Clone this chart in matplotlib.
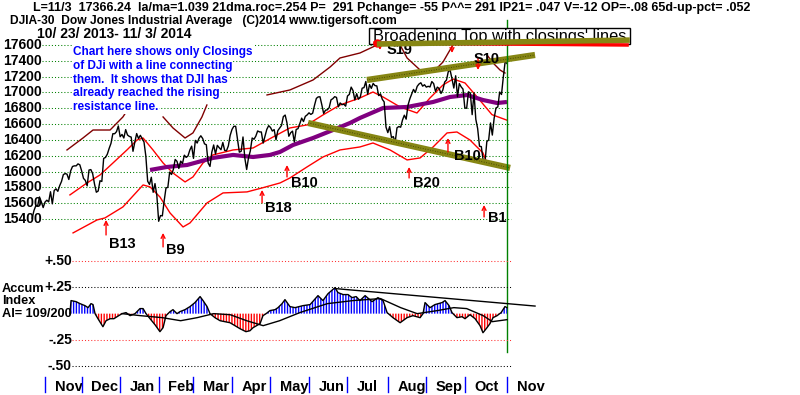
import numpy as np
import pandas as pd
import matplotlib
matplotlib.use("Agg")
import matplotlib.pyplot as plt

plt.rcParams['font.family'] = ['Liberation Sans', 'DejaVu Sans']
plt.rcParams['hatch.linewidth'] = 1.0

# ---------------- data ----------------
holidays = ['2013-11-28', '2013-12-25', '2014-01-01', '2014-01-20', '2014-02-17',
            '2014-04-18', '2014-05-26', '2014-07-04', '2014-09-01']
closes_oct13 = [15413, 15509, 15570, 15568, 15680, 15618, 15546]
closes_nov13 = [15615, 15639, 15618, 15746, 15593, 15761, 15783, 15751, 15822, 15876, 15962,
                15976, 15968, 15901, 16010, 16065, 16073, 16073, 16098, 16086]
closes_dec13 = [16008, 15915, 15889, 15821, 16020, 16026, 15974, 15844, 15740, 15755, 15885,
                15876, 16168, 16179, 16221, 16294, 16358, 16479, 16479, 16505, 16577]
closes_jan14 = [16441, 16470, 16425, 16531, 16463, 16445, 16437, 16257, 16374, 16481, 16418,
                16459, 16415, 16374, 16197, 15879, 15838, 15929, 15739, 15849, 15699]
closes_feb14 = [15373, 15445, 15441, 15629, 15795, 15801, 15994, 15964, 16027, 16154, 16130,
                16040, 16133, 16104, 16208, 16180, 16198, 16273, 16322]
closes_mar14 = [16168, 16395, 16361, 16422, 16453, 16419, 16351, 16340, 16109, 16066, 16247,
                16337, 16223, 16332, 16303, 16277, 16368, 16268, 16264, 16324, 16458]
closes_apr14 = [16533, 16573, 16573, 16413, 16246, 16257, 16438, 16171, 16027, 16174, 16263,
                16425, 16409, 16449, 16514, 16502, 16501, 16361, 16448, 16535, 16581]
closes_may14 = [16558, 16513, 16531, 16402, 16518, 16551, 16583, 16695, 16715, 16614, 16447,
                16491, 16512, 16375, 16533, 16543, 16607, 16676, 16633, 16699, 16717]
closes_jun14 = [16743, 16723, 16738, 16837, 16925, 16944, 16946, 16844, 16735, 16776, 16781,
                16808, 16907, 16922, 16947, 16938, 16819, 16868, 16846, 16852, 16827]
closes_jul14 = [16956, 16976, 17068, 17025, 16906, 16985, 16915, 16944, 17055, 17061, 17139,
                16977, 17100, 17052, 17114, 17087, 17083, 16961, 16983, 16913, 16881, 16563]
closes_aug14 = [16493, 16569, 16430, 16443, 16369, 16554, 16570, 16561, 16652, 16713, 16663,
                16839, 16920, 16980, 17039, 17001, 17077, 17107, 17123, 17080, 17098]
closes_sep14 = [17068, 17078, 17070, 17138, 17112, 17014, 17068, 17050, 16988, 17031, 17132,
                17157, 17266, 17280, 17173, 17056, 17211, 16946, 17113, 17071, 17043]
closes_oct14 = [16804, 16801, 17009, 16992, 16720, 16994, 16660, 16544, 16321, 16316, 16142,
                16117, 16380, 16400, 16615, 16462, 16677, 16805, 16818, 17006, 16975, 17196, 17391]
closes_nov14 = [17366]

# 65-day moving average (purple): (trading-day index, value)
ma65_idx = [64.3, 73.5, 84.5, 98.6, 109.6, 120.5, 129.7, 135.2, 142.3, 153.2, 164.1, 173.4,
            178.8, 191.4, 204.5, 218.7, 227.9, 237.2, 245.9, 253.6, 259.0]
ma65_val = [16021, 16059, 16084, 16173, 16211, 16185, 16211, 16249, 16337, 16425, 16526, 16615,
            16678, 16804, 16817, 16880, 16943, 16968, 16905, 16867, 16880]

# upper band (red)
up_idx = [20.6, 29.9, 37.0, 44.1, 51.7, 57.2, 60.5, 65.9, 71.4, 76.8, 83.4, 87.7, 93.2, 98.6,
          109.6, 120.5, 131.4, 140.6, 149.9, 158.6, 167.9, 178.8, 185.9, 191.4, 200.7, 209.9,
          217.0, 224.1, 229.6, 236.1, 243.2, 250.8, 259.0]
up_val = [15706, 15857, 15958, 16110, 16274, 16400, 16425, 16274, 16110, 15983, 15870, 15933,
          16110, 16211, 16274, 16299, 16438, 16552, 16590, 16716, 16842, 16931, 17006, 16943,
          16817, 16741, 16931, 17095, 17170, 17120, 16930, 16720, 16650]
# lower band (red)
lo_idx = [22.3, 35.4, 39.7, 49.5, 60.5, 64.3, 69.7, 75.2, 82.3, 86.1, 95.4, 104.1, 117.2,
          125.4, 135.2, 140.6, 149.9, 158.6, 167.9, 178.8, 185.9, 195.2, 204.5, 211.6, 218.7,
          226.3, 231.7, 238.8, 245.9, 248.1]
lo_val = [15226, 15390, 15415, 15554, 15832, 15807, 15680, 15478, 15301, 15352, 15605, 15731,
          15744, 15794, 15857, 15920, 16059, 16185, 16274, 16312, 16362, 16274, 16148, 16173,
          16312, 16489, 16501, 16400, 16236, 16110]
# outer bands (dark red) in pieces
m1_idx = [19.0, 27.7, 33.2, 42.5, 49.5, 52.0]
m1_val = [16274, 16425, 16526, 16526, 16691, 16780]
m2_idx = [71.4, 76.8, 83.4, 87.7, 92.6, 95.3]
m2_val = [16691, 16552, 16425, 16489, 16691, 16842]
m3_idx = [128.1, 140.6, 153.2, 162.5, 167.9, 178.8, 188.1]
m3_val = [16969, 17032, 17158, 17322, 17436, 17499, 17600]
m4_idx = [200.7, 204.5, 211.6, 218.7, 224.1, 227.9, 229.6]
m4_val = [17600, 17436, 17284, 17259, 17385, 17537, 17600]
m5_idx = [248.1, 251.4, 255.2, 257.9]
m5_val = [17474, 17373, 17284, 17246]

# Accumulation index
ai_idx = [20.6, 21.2, 23.9, 26.1, 28.8, 30.5, 32.1, 33.2, 34.3, 35.9, 38.6, 40.3, 42.5, 44.6,
          46.3, 49.0, 51.2, 53.4, 56.1, 58.8, 60.5, 62.1, 64.3, 67.0, 69.7, 71.4, 73.0, 75.2,
          76.8, 79.0, 80.6, 83.4, 86.1, 88.8, 91.6, 93.2, 95.4, 97.0, 99.7, 102.5, 107.9, 113.4,
          116.6, 118.8, 120.5, 124.3, 125.9, 127.6, 129.7, 132.5, 134.1, 136.3, 137.9, 140.6,
          143.4, 147.7, 151.6, 155.9, 158.6, 161.4, 165.2, 166.8, 169.6, 172.3, 174.5, 176.7,
          178.8, 181.6, 185.4, 188.6, 191.4, 193.6, 196.8, 200.7, 204.5, 207.7, 211.6, 213.2,
          214.3, 217.0, 219.7, 223.6, 225.2, 227.4, 229.0, 231.7, 234.5, 236.1, 238.8, 241.6,
          244.3, 245.9, 248.1, 249.7, 251.4, 253.6, 255.8, 257.9, 259.0]
ai_val = [0, 0.124, 0.114, 0.095, 0.076, 0.057, 0.095, 0.086, 0, -0.048, -0.124, -0.067, -0.048,
          -0.048, -0.029, 0, 0.01, -0.019, 0, 0.048, 0.048, 0, -0.048, -0.105, -0.171, -0.133,
          -0.019, 0.019, 0.038, 0, 0.019, 0.038, 0.067, 0.105, 0.162, 0.124, 0.067, 0, -0.038,
          -0.067, -0.086, -0.143, -0.171, -0.162, -0.133, -0.095, -0.019, 0, 0.029, 0.038, 0.057,
          0.095, 0.133, 0.067, 0.057, 0.076, 0.086, 0.171, 0.124, 0.19, 0.247, 0.2, 0.181, 0.181,
          0.152, 0.162, 0.124, 0.171, 0.114, 0.152, 0.124, 0.01, -0.038, -0.086, -0.038, -0.019,
          -0.038, 0, 0.105, 0.057, 0.086, 0.105, 0.124, 0.076, 0.01, -0.038, -0.029, -0.048,
          -0.01, -0.048, -0.114, -0.181, -0.133, -0.095, -0.038, -0.019, 0.01, 0.067, 0.057]
aima_idx = [49, 59, 71, 81, 90, 99, 108, 117, 126, 135, 146, 161, 175, 190, 201, 210, 221, 230,
            237, 246, 251, 259]
aima_val = [0, -0.019, -0.038, -0.067, -0.038, 0, -0.01, -0.067, -0.114, -0.067, 0.01, 0.095,
            0.124, 0.143, 0.057, 0, 0.029, 0.057, 0.048, -0.019, -0.076, -0.057]
ai_trend_idx = [165.2, 274.3]
ai_trend_val = [0.238, 0.072]

# olive trend lines
res_idx = [182.6, 274.3]
res_val = [17158, 17474]
sup_idx = [150.5, 260.7]
sup_val = [16615, 16047]

# signals: label, index, arrow tail, arrow head, label index, label value
buy_signals = [("B13", 40.3, 15200, 15390, 49.0, 15087),
               ("B9", 71.4, 15049, 15226, 77.9, 15011),
               ("B18", 125.4, 15605, 15769, 134.1, 15541),
               ("B10", 139.0, 15933, 16084, 148.3, 15857),
               ("B20", 205.6, 15920, 16059, 214.8, 15857),
               ("B10", 226.8, 16249, 16425, 237.2, 16198),
               ("B1", 246.5, 15428, 15579, 253.6, 15415)]
sell_signals = [("S19", 189.7, 17663, 17537, 193.2, 17540),
                ("", 229.0, 17610, 17499, 0, 0),
                ("S10", 243.2, 17436, 17284, 241.0, 17420)]

price_levels = list(range(15400, 17601, 200))
ai_levels = [0.50, 0.25, -0.25, -0.50]
ai_level_labels = ["+.50", "+.25", "-.25", "-.50"]

header1 = ("L=11/3  17366.24  la/ma=1.039 21dma.roc=.254 P=  291 Pchange= -55 P^^= 291 "
           "IP21= .047 V=-12 OP=-.08 65d-up-pct= .052")
header2 = "DJIA-30  Dow Jones Industrial Average   (C)2014 www.tigersoft.com"
header3 = "10/ 23/ 2013- 11/ 3/ 2014"
note_lines = ["Chart here shows only Closings", "of DJi with a line connecting",
              "them.  It shows that DJI has", "already reached the rising",
              "resistance line."]
title_text = "Broadening Top with closings' lines"

# ---------------- figure ----------------
dates = pd.bdate_range('2013-10-23', '2014-11-03', freq='C', holidays=holidays)
closes = np.array(closes_oct13 + closes_nov13 + closes_dec13 + closes_jan14 + closes_feb14 +
                  closes_mar14 + closes_apr14 + closes_may14 + closes_jun14 + closes_jul14 +
                  closes_aug14 + closes_sep14 + closes_oct14 + closes_nov14, dtype=float)
n = min(len(dates), len(closes))
dates = dates[:n]
closes = closes[:n]
idx = np.arange(n)

W, H = 800, 395
fig = plt.figure(figsize=(W / 100, H / 100), dpi=100)
fig.patch.set_facecolor('white')
renderer = fig.canvas.get_renderer()


def P(x, y):
    return (x / W, 1 - y / H)


def fit(t, width_px):
    bb = t.get_window_extent(renderer)
    t.set_fontsize(t.get_fontsize() * width_px / bb.width)
    return t


px_per_day = 1.8333
X0 = 7 - 45 / px_per_day
X1 = 7 + (W - 45) / px_per_day
ppp = 200 / 15.83
ax = fig.add_axes([0, 0, 1, 1])
ax.set_xlim(X0, X1)
ax.set_ylim(17600 - (H - 45) * ppp, 17600 + 45 * ppp)
ax.axis('off')

ax2 = fig.add_axes([0, 0, 1, 1], sharex=ax)
ax2.set_ylim(-(H - 313.65) / 26.35 * 0.25, 313.65 / 26.35 * 0.25)
ax2.axis('off')
ax2.patch.set_alpha(0)

dots = (0, (1, 2))
# price grid
ax.hlines(price_levels, 5.5, 261, colors='#008000', linestyles=dots, lw=0.75, zorder=1)
for lv in price_levels:
    ax.text(X0 + 42 / px_per_day, lv, str(lv), ha='right', va='center', fontsize=10,
            fontweight='bold', color='black')

# bands
ax.plot(up_idx, up_val, color='#ff0000', lw=1, zorder=2)
ax.plot(lo_idx, lo_val, color='#ff0000', lw=1, zorder=2)
for mi, mv in [(m1_idx, m1_val), (m2_idx, m2_val), (m3_idx, m3_val), (m4_idx, m4_val),
               (m5_idx, m5_val)]:
    ax.plot(mi, mv, color='#800000', lw=1, zorder=2)
ax.plot(ma65_idx, ma65_val, color='#800080', lw=3, zorder=3, solid_capstyle='butt')
ax.plot(idx, closes, color='black', lw=1, zorder=4)

# olive trend lines
for ti, tv in [(res_idx, res_val), (sup_idx, sup_val)]:
    ax.plot(ti, tv, color='#868613', lw=4.5, zorder=5, solid_capstyle='butt')
    ax.plot(ti, tv, color='#3a3a00', lw=0.6, ls=(0, (1, 2)), zorder=5)

# signals
arrow_kw = dict(arrowstyle='->', color='#ff0000', lw=1, mutation_scale=7, shrinkA=0, shrinkB=0)
for lab, i, pt, ph, li, lv in buy_signals:
    ax.annotate('', xy=(i, ph), xytext=(i, pt), arrowprops=arrow_kw, zorder=6)
    ax.text(li, lv, lab, ha='center', va='center', fontsize=10.5, fontweight='bold', zorder=6)
for lab, i, pt, ph, li, lv in sell_signals:
    ax.annotate('', xy=(i, ph), xytext=(i, pt), arrowprops=arrow_kw, zorder=6)
    if lab:
        ax.text(li, lv, lab, ha='left', va='center', fontsize=10.5, fontweight='bold', zorder=6)

# title box (inside the price axes so the hand-drawn lines can go over it)
tt = ax.text(499.5 / W, 1 - 36 / H, title_text, transform=fig.transFigure, ha='center',
             va='center', fontsize=11, zorder=20)
fit(tt, 252)
ax.add_patch(plt.Rectangle((369 / W, 1 - 44 / H), 261 / W, 16 / H, transform=fig.transFigure,
                           facecolor='white', edgecolor='black', lw=1, zorder=19))
ax.plot([187.0, 324.5], [17625, 17600], color='#ff0000', lw=2.5, zorder=25)
ax.plot([188.0], [17620], 'o', color='#ff0000', ms=5, zorder=25)
ax.plot([188.0, 326.0], [17612, 17662], color='#868613', lw=4, zorder=26,
        solid_capstyle='butt')

# note text
fs_note = None
for k, line in enumerate(note_lines):
    t = fig.text(*P(73, 52 + 13.8 * k), line, ha='left', va='center', fontsize=9.2,
                 fontweight='bold', color='#0000ff', zorder=10,
                 bbox=dict(boxstyle='square,pad=0.05', facecolor='white', edgecolor='none'))
    if k == 0:
        fit(t, 178)
        fs_note = t.get_fontsize()
    else:
        t.set_fontsize(fs_note)

# headers
fit(fig.text(*P(33, 7.5), header1, ha='left', va='center', fontsize=9.6, fontweight='bold'), 718)
fit(fig.text(*P(10, 21), header2, ha='left', va='center', fontsize=10.2, fontweight='bold'), 385)
fit(fig.text(*P(37, 34), header3, ha='left', va='center', fontsize=10.2, fontweight='bold'), 154)

# green marker line at last day
ax.axvline(idx[-1], ymin=1 - 352 / H, ymax=1 - 20 / H, color='#008000', lw=1, zorder=7)

# ---- accumulation index panel ----
ai_cols = ['#ff3030', 'black', '#ff3030', 'black']
for lv, lab, c in zip(ai_levels, ai_level_labels, ai_cols):
    ax2.hlines(lv, 22, 262, colors=c, linestyles=dots, lw=0.75, zorder=1)
    ax2.text(X0 + 72 / px_per_day, lv, lab, ha='right', va='center', fontsize=10,
             fontweight='bold')
ta = fig.text(*P(2, 289), "Accum", ha='left', va='center', fontsize=9.5, fontweight='bold')
ti_ = fig.text(*P(2, 301.5), "Index", ha='left', va='center', fontsize=9.5, fontweight='bold')
tai = fig.text(*P(2, 314), "AI= 109/200", ha='left', va='center', fontsize=9.5,
               fontweight='bold')
fit(tai, 70)
ta.set_fontsize(tai.get_fontsize())
ti_.set_fontsize(tai.get_fontsize())

ai_x = np.array(ai_idx)
ai_y = np.array(ai_val)
ax2.fill_between(ai_x, ai_y, 0, where=ai_y >= 0, interpolate=True, facecolor='none',
                 edgecolor='#0000ff', hatch='||||||', lw=0, zorder=2)
ax2.fill_between(ai_x, ai_y, 0, where=ai_y <= 0, interpolate=True, facecolor='none',
                 edgecolor='#ff0000', hatch='||||||', lw=0, zorder=2)
ax2.plot(ai_x, ai_y, color='black', lw=1, zorder=3)
ax2.plot(aima_idx, aima_val, color='black', lw=1, zorder=3)
ax2.plot(ai_trend_idx, ai_trend_val, color='black', lw=1, zorder=3)

# month axis
month_starts = [i for i in range(1, n) if dates[i].month != dates[i - 1].month]
for i in month_starts:
    ax.plot([i, i], [17600 - (377 - 45) * ppp, 17600 - (392 - 45) * ppp], color='#0000ff',
            lw=1, zorder=5)
    ax.text(i + 5.2, 17600 - (387 - 45) * ppp, dates[i].strftime('%b'), ha='left',
            va='center', fontsize=10.5, fontweight='bold')

fig.savefig('out.png', dpi=100, facecolor='white')
